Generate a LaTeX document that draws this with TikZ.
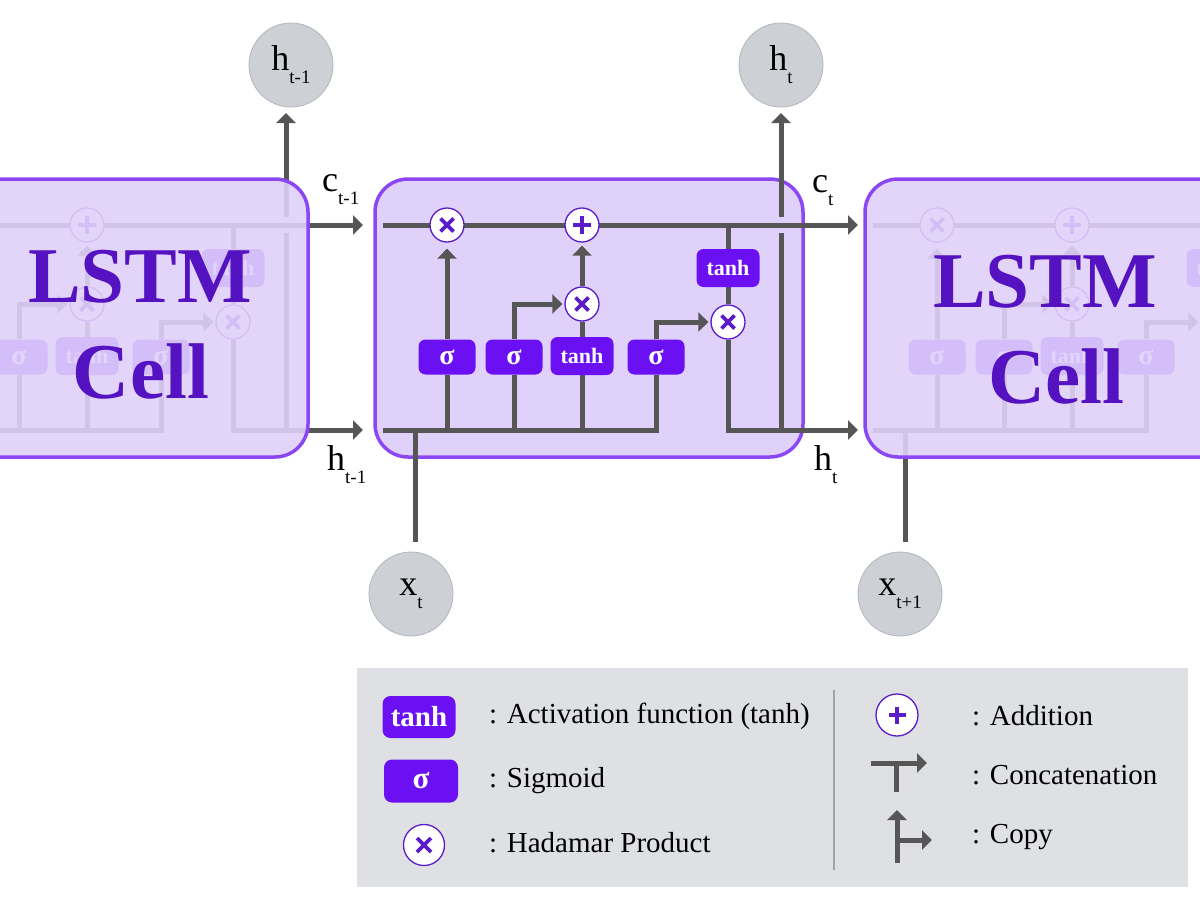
\documentclass[tikz,border=0pt]{standalone}
\usepackage{fontspec}
\setmainfont{Liberation Serif}
\usetikzlibrary{arrows.meta}
\definecolor{lnc}{HTML}{565656}
\definecolor{cellfill}{HTML}{E0D1FA}
\definecolor{cellborder}{HTML}{8B47F3}
\definecolor{gatec}{HTML}{6A10F2}
\definecolor{opc}{HTML}{5A1BC8}
\definecolor{lstmc}{HTML}{5412C0}
\definecolor{gnodec}{HTML}{CDD1D6}
\definecolor{gnodeb}{HTML}{B3B7BD}
\definecolor{legbg}{HTML}{DEE0E4}
\definecolor{divc}{HTML}{A0A2A6}
\pgfdeclarelayer{bg}\pgfdeclarelayer{lines}\pgfdeclarelayer{fade}\pgfdeclarelayer{top}
\pgfsetlayers{bg,lines,main,fade,top}
\newcommand\sbs[1]{\raisebox{-13pt}{\fontsize{19}{19}\selectfont #1}}
\newcommand\lbltxt[2]{{\fontsize{36}{36}\selectfont #1}\sbs{#2}}
\tikzset{
  wire/.style={draw=lnc, line width=5, line join=miter},
  awire/.style={wire, -{Triangle[length=10pt,width=19pt]}},
  gate/.style={rectangle, rounded corners=7, fill=gatec, text=white, inner sep=0,
    minimum width=57, minimum height=35, font=\bfseries\fontsize{22}{22}\selectfont},
  sig/.style={gate, font=\bfseries\fontsize{28}{28}\selectfont},
  tgate/.style={gate, minimum width=63, minimum height=38},
  opcirc/.style={circle, draw=opc, line width=1.3, fill=white, minimum size=34, inner sep=0},
  mulop/.style={opcirc, path picture={\draw[opc, line width=3.8]
      ([shift={(-#1,-#1)}]path picture bounding box.center) -- ([shift={(#1,#1)}]path picture bounding box.center)
      ([shift={(-#1,#1)}]path picture bounding box.center) -- ([shift={(#1,-#1)}]path picture bounding box.center);}},
  mulop/.default=6.5,
  addop/.style={opcirc, path picture={\draw[opc, line width=3.8]
      ([shift={(-#1,0)}]path picture bounding box.center) -- ([shift={(#1,0)}]path picture bounding box.center)
      ([shift={(0,-#1)}]path picture bounding box.center) -- ([shift={(0,#1)}]path picture bounding box.center);}},
  addop/.default=9,
  gnode/.style={circle, fill=gnodec, draw=gnodeb, line width=0.8, minimum size=84, inner sep=0},
  lbl/.style={anchor=base west, inner sep=0},
  bigtxt/.style={anchor=base, inner sep=0, text=lstmc, font=\bfseries\fontsize{79}{79}\selectfont},
  legtxt/.style={anchor=base west, inner sep=0, font=\fontsize{29}{29}\selectfont},
  cellshape/.style={line width=3.5, rounded corners=33},
}
\newcommand\lstmcore[1]{%
  \node[sig] (#1f) at (447,357) {σ};
  \node[sig] (#1i) at (514,357) {σ};
  \node[tgate] (#1g) at (582,356) {tanh};
  \node[sig] (#1o) at (656,357) {σ};
  \node[tgate] (#1th) at (728,268) {tanh};
  \node[mulop] (#1mf) at (447,225) {};
  \node[addop] (#1ad) at (582,225) {};
  \node[mulop] (#1mi) at (582,304) {};
  \node[mulop] (#1mo) at (728,322) {};
  \coordinate (#1cin) at (383,225);
  \coordinate (#1cout) at (858,225);
  \coordinate (#1hin) at (383,430);
  \coordinate (#1hout) at (858,430);
  \coordinate (#1xin) at (415,542);
  \coordinate (#1ua) at (781,430);
  \coordinate (#1ub) at (781,233);
  \coordinate (#1uc) at (781,217);
  \coordinate (#1ud) at (781,113);
  \begin{pgfonlayer}{lines}
    \draw[awire] (#1cin) -- (#1cout);
    \draw[wire] (#1hin) -| (#1o);
    \draw[wire] (#1xin) -- (#1xin |- #1hin);
    \draw[wire] (#1f |- #1hin) -- (#1f);
    \draw[awire, shorten >=6] (#1f) -- (#1mf);
    \draw[wire] (#1i |- #1hin) -- (#1i);
    \draw[awire, shorten >=2] (#1i) |- (#1mi);
    \draw[wire] (#1g |- #1hin) -- (#1g);
    \draw[wire] (#1g) -- (#1mi);
    \draw[awire, shorten >=3] (#1mi) -- (#1ad);
    \draw[awire, shorten >=2] (#1o) |- (#1mo);
    \draw[wire] (#1th |- #1cin) -- (#1th);
    \draw[wire] (#1th) -- (#1mo);
    \draw[awire] (#1mo) |- (#1hout);
    \draw[wire] (#1ua) -- (#1ub);
    \draw[awire] (#1uc) -- (#1ud);
  \end{pgfonlayer}
}
\begin{document}
\begin{tikzpicture}[x=1pt, y=-1pt]
\useasboundingbox (0,0) rectangle (1200,900);
\begin{pgfonlayer}{bg}
  \fill[white] (0,0) rectangle (1200,900);
  \draw[cellshape, fill=cellfill, draw=cellborder] (375,179) rectangle (803,457);
  \fill[legbg] (357,668) rectangle (1188,887);
\end{pgfonlayer}
% left cell (faded)
\begin{scope}[xshift=-495]
  \lstmcore{L}
  \begin{pgfonlayer}{fade}
    \draw[cellshape, fill=cellfill, fill opacity=0.9, draw=cellborder] (375,179) rectangle (803,457);
  \end{pgfonlayer}
\end{scope}
% central cell
\lstmcore{C}
% right cell (faded)
\begin{scope}[xshift=490]
  \lstmcore{R}
  \begin{pgfonlayer}{fade}
    \draw[cellshape, fill=cellfill, fill opacity=0.9, draw=cellborder] (375,179) rectangle (803,457);
  \end{pgfonlayer}
\end{scope}
\begin{pgfonlayer}{top}
  \node[bigtxt] (l1) at (140,302) {LSTM};
  \node[bigtxt] (l2) at (141,398) {Cell};
  \node[bigtxt] (r1) at (1045,307) {LSTM};
  \node[bigtxt] (r2) at (1056,403) {Cell};
\end{pgfonlayer}
% input / output nodes
\node[gnode] (hprev) at (291,65) {\lbltxt{h}{t-1}};
\node[gnode] (hcur) at (781,65) {\lbltxt{h}{t}};
\node[gnode] (xt) at (411,594) {\lbltxt{x}{t}};
\node[gnode] (xnext) at (900,594) {\lbltxt{x}{t+1}};
% state labels
\node[lbl] (lc1) at (322,191) {\lbltxt{c}{t-1}};
\node[lbl] (lh1) at (327,470) {\lbltxt{h}{t-1}};
\node[lbl] (lc2) at (812,192) {\lbltxt{c}{t}};
\node[lbl] (lh2) at (814,470) {\lbltxt{h}{t}};
% legend
\draw[divc, line width=1.5] (834,690) -- (834,870);
\node[gate, minimum width=73, minimum height=42, rounded corners=8, font=\bfseries\fontsize{29}{29}\selectfont] (lg1) at (419,717) {tanh};
\node[gate, minimum width=74, minimum height=43, rounded corners=8, font=\bfseries\fontsize{31}{31}\selectfont] (lg2) at (421,781) {σ};
\node[mulop=7, minimum size=41] (lg3) at (424,845) {};
\node[addop=8.5, minimum size=42] (lg4) at (897,715) {};
\node[legtxt] (t1) at (489,723) {: Activation function (tanh)};
\node[legtxt] (t2) at (489,787) {: Sigmoid};
\node[legtxt] (t3) at (489,852) {: Hadamar Product};
\node[legtxt] (t4) at (972,725) {: Addition};
\node[legtxt] (t5) at (972,784) {: Concatenation};
\node[legtxt] (t6) at (972,843) {: Copy};
\coordinate (cc1) at (871,763);
\coordinate (cc2) at (927,763);
\coordinate (cc3) at (896,763);
\coordinate (cc4) at (896,792);
\draw[awire] (cc1) -- (cc2);
\draw[wire] (cc3) -- (cc4);
\coordinate (cp1) at (897,863);
\coordinate (cp2) at (897,810);
\coordinate (cp3) at (897,840);
\coordinate (cp4) at (932,840);
\draw[awire] (cp1) -- (cp2);
\draw[awire] (cp3) -- (cp4);
\end{tikzpicture}
\end{document}
